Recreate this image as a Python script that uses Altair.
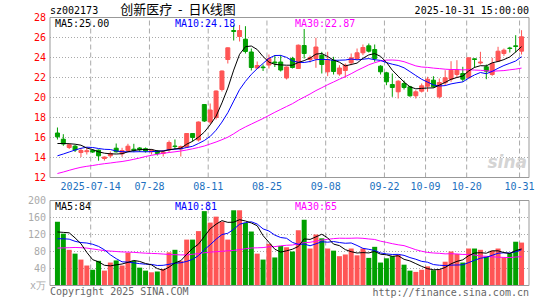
import altair as alt
import pandas as pd

# ---------------- data ----------------
grid_idx = [6, 16, 26, 36, 46, 56, 63, 70, 79]
grid_labels = ["2025-07-14", "07-28", "08-11", "08-25", "09-08", "09-22", "10-09", "10-20", "10-31"]

opens = [16.45, 15.83, 15.0, 15.13, 14.5, 14.58, 14.7, 14.73, 13.9, 14.17,
         14.93, 14.37, 14.7, 14.83, 14.95, 14.88, 14.57, 14.63, 14.4, 14.77,
         15.15, 14.85, 15.05, 16.4, 15.75, 19.3, 17.55, 18.0, 20.8, 23.8,
         26.7, 26.1, 25.83, 24.55, 22.95, 23.05, 23.25, 23.55, 23.55, 21.95,
         23.9, 22.9, 25.2, 23.8, 23.9, 24.23, 22.57, 23.73, 22.35, 22.7,
         23.47, 23.9, 24.47, 25.17, 24.8, 23.13, 22.47, 21.3, 20.57, 21.4,
         21.07, 20.17, 20.63, 21.13, 21.73, 20.07, 21.47, 21.83, 22.3, 22.4,
         21.97, 23.87, 23.45, 23.07, 22.3, 23.63, 24.4, 24.95, 25.17, 24.63]
highs = [17.0, 16.33, 15.4, 15.25, 14.95, 14.95, 14.85, 14.8, 14.1, 14.6,
         15.4, 14.97, 15.37, 15.37, 15.05, 15.0, 14.85, 14.75, 14.75, 15.7,
         15.8, 15.2, 16.45, 16.45, 17.6, 19.35, 19.4, 20.7, 22.7, 25.0,
         27.25, 27.25, 27.13, 24.9, 23.6, 23.3, 24.3, 24.25, 24.25, 23.1,
         24.07, 25.3, 26.85, 24.2, 25.97, 24.57, 24.57, 24.07, 23.23, 23.4,
         24.4, 24.9, 25.3, 25.4, 25.3, 23.23, 22.57, 22.4, 21.73, 21.7,
         21.17, 20.73, 21.4, 22.07, 22.13, 21.9, 22.73, 23.63, 23.73, 23.07,
         24.0, 23.9, 24.57, 23.3, 23.97, 25.07, 24.9, 25.07, 26.23, 26.73]
lows = [15.8, 15.17, 14.85, 14.55, 14.05, 14.3, 14.45, 13.68, 13.7, 13.95,
        14.5, 14.07, 14.57, 14.53, 14.55, 14.5, 14.3, 14.2, 14.1, 14.55,
        14.85, 14.1, 15.0, 15.6, 15.6, 17.55, 17.3, 17.8, 20.6, 23.4,
        25.7, 25.6, 24.4, 22.7, 22.85, 22.65, 22.9, 23.05, 22.6, 21.8,
        22.9, 22.85, 23.9, 23.5, 22.97, 22.4, 22.13, 22.3, 22.17, 21.97,
        23.23, 23.73, 24.23, 24.5, 23.57, 22.3, 21.23, 20.07, 19.9, 20.8,
        20.07, 19.9, 20.5, 20.57, 20.97, 19.9, 21.23, 21.57, 21.97, 21.57,
        21.9, 22.97, 23.3, 21.83, 22.17, 23.57, 24.17, 24.5, 24.5, 24.3]
closes = [16.07, 15.35, 15.27, 14.75, 14.7, 14.68, 14.55, 14.17, 14.05, 14.4,
          14.57, 14.7, 15.13, 14.72, 14.78, 14.65, 14.75, 14.4, 14.55, 15.5,
          15.1, 15.1, 16.4, 16.0, 17.55, 17.65, 18.75, 20.65, 22.65, 24.97,
          26.6, 26.7, 24.6, 23.0, 23.2, 22.98, 23.9, 23.45, 22.75, 23.05,
          23.0, 25.23, 24.4, 24.0, 25.05, 23.3, 23.73, 22.6, 22.95, 23.23,
          23.97, 24.47, 25.0, 24.63, 23.9, 22.57, 21.57, 21.0, 21.63, 21.0,
          20.17, 20.57, 21.17, 21.83, 21.07, 21.5, 21.97, 22.73, 22.73, 21.83,
          23.97, 23.8, 23.55, 22.63, 23.4, 24.63, 24.73, 24.9, 25.1, 26.07]
ma5 = [15.40, 15.40, 15.38, 15.33, 15.23, 14.95, 14.79, 14.57, 14.43, 14.37,
       14.35, 14.38, 14.57, 14.70, 14.78, 14.80, 14.81, 14.66, 14.63, 14.77,
       14.86, 14.93, 15.33, 15.62, 16.03, 16.54, 17.27, 18.13, 19.46, 20.94,
       22.74, 24.32, 25.08, 25.15, 24.80, 24.09, 23.54, 23.31, 23.26, 23.23,
       23.23, 23.50, 23.69, 23.94, 24.34, 24.40, 24.10, 23.74, 23.53, 23.16,
       23.30, 23.44, 23.92, 24.26, 24.39, 24.11, 23.53, 22.73, 22.13, 21.55,
       21.07, 20.87, 20.91, 20.95, 20.96, 21.23, 21.51, 21.82, 22.00, 22.15,
       22.65, 23.01, 23.18, 23.16, 23.47, 23.60, 23.79, 24.06, 24.55, 25.09]
ma10 = [14.17, 14.35, 14.55, 14.75, 14.92, 15.03, 15.00, 14.90, 14.82, 14.80,
        14.65, 14.58, 14.57, 14.57, 14.58, 14.57, 14.59, 14.62, 14.67, 14.78,
        14.83, 14.87, 15.00, 15.12, 15.40, 15.70, 16.11, 16.73, 17.54, 18.48,
        19.64, 20.79, 21.61, 22.31, 22.88, 23.41, 23.92, 24.20, 24.21, 24.01,
        23.66, 23.52, 23.50, 23.60, 23.78, 23.81, 23.80, 23.71, 23.73, 23.75,
        23.85, 23.77, 23.83, 23.89, 23.78, 23.71, 23.49, 23.33, 23.20, 22.97,
        22.59, 22.20, 21.82, 21.54, 21.26, 21.15, 21.19, 21.36, 21.47, 21.56,
        21.94, 22.26, 22.50, 22.38, 22.61, 22.92, 23.20, 23.42, 23.65, 24.08]
ma30 = [12.40, 12.55, 12.72, 12.88, 13.02, 13.12, 13.20, 13.30, 13.38, 13.45,
        13.53, 13.60, 13.70, 13.82, 13.95, 14.10, 14.22, 14.32, 14.42, 14.50,
        14.57, 14.65, 14.75, 14.87, 15.00, 15.15, 15.35, 15.55, 15.78, 16.03,
        16.37, 16.75, 17.06, 17.34, 17.62, 17.90, 18.21, 18.52, 18.81, 19.10,
        19.38, 19.73, 20.04, 20.35, 20.69, 20.98, 21.28, 21.55, 21.83, 22.09,
        22.38, 22.70, 22.98, 23.27, 23.48, 23.65, 23.74, 23.75, 23.71, 23.58,
        23.37, 23.16, 23.05, 23.01, 22.94, 22.89, 22.83, 22.80, 22.80, 22.76,
        22.79, 22.74, 22.72, 22.67, 22.62, 22.66, 22.69, 22.77, 22.84, 22.94]
vols = [150, 122, 84, 75, 61, 47, 37, 58, 35, 54,
        59, 47, 77, 58, 42, 35, 31, 33, 39, 78,
        84, 58, 108, 108, 128, 175, 148, 162, 150, 108,
        177, 177, 147, 127, 75, 61, 98, 66, 93, 90,
        80, 130, 155, 87, 120, 111, 87, 82, 69, 73,
        87, 71, 87, 65, 91, 54, 64, 69, 72, 49,
        35, 32, 37, 45, 36, 38, 56, 80, 74, 54,
        87, 87, 84, 68, 82, 87, 66, 76, 103, 101]
vma5 = [126, 125, 124, 112, 98.4, 77.8, 60.8, 55.6, 47.6, 46.2,
        48.6, 50.6, 54.4, 59, 56.6, 51.8, 48.6, 39.8, 36, 43.2,
        53, 58.4, 73.4, 87.2, 97.2, 115.4, 133.4, 144.2, 152.6, 148.6,
        149, 154.8, 151.8, 147.2, 140.6, 117.4, 101.6, 85.4, 78.6, 81.6,
        85.4, 91.8, 109.6, 108.4, 114.4, 120.6, 112, 97.4, 93.8, 84.4,
        79.6, 76.4, 77.4, 76.6, 80.2, 73.6, 72.2, 68.6, 70, 61.6,
        57.8, 51.4, 45, 39.6, 37, 37.6, 42.4, 51, 56.8, 60.4,
        70.2, 76.4, 77.2, 76, 81.6, 81.6, 77.4, 75.2, 82.2, 86]
vma10 = [110, 110, 109, 104, 101, 100, 97, 92, 84, 72.3,
         63.2, 55.7, 55, 53.3, 51.4, 50.2, 49.6, 47.1, 47.5, 49.9,
         52.4, 53.5, 56.6, 61.6, 70.2, 84.2, 95.9, 108.8, 119.9, 122.9,
         132.2, 144.1, 148, 149.9, 144.6, 133.2, 128.2, 118.6, 112.9, 111.1,
         101.4, 96.7, 97.5, 93.5, 98, 103, 101.9, 103.5, 101.1, 99.4,
         100.1, 94.2, 87.4, 85.2, 82.3, 76.6, 74.3, 73, 73.3, 70.9,
         65.7, 61.8, 56.8, 54.8, 49.3, 47.7, 46.9, 48, 48.2, 48.7,
         53.9, 59.4, 64.1, 66.4, 71, 75.9, 76.9, 76.5, 79.4, 84.1]
vma30 = [88, 88.5, 89, 89.5, 89, 88, 86, 84, 82, 81,
         80, 79, 78.5, 78, 77, 76, 75.5, 75, 74, 73,
         72.5, 72, 72, 73.5, 75, 77, 78.5, 79.5, 80.5, 81.7,
         82.6, 84.4, 86.5, 88.3, 88.7, 89.2, 91.2, 91.5, 93.4, 94.6,
         95.3, 98.1, 100.7, 101.7, 104.3, 106.8, 108.7, 110.3, 111.3, 111.1,
         111.2, 111.7, 111, 109.5, 108.3, 104.3, 101.5, 98.4, 95.8, 93.8,
         89.1, 84.2, 80.6, 77.8, 76.5, 75.8, 74.4, 74.8, 74.2, 73,
         73.2, 71.8, 69.4, 68.8, 67.5, 66.7, 66, 65.8, 67, 67.9]

price_ticks = [12, 14, 16, 18, 20, 22, 24, 26, 28]
vol_ticks = [0, 40, 80, 120, 160, 200]
vol_tick_labels = ["x万", "40", "80", "120", "160", "200"]
price_legend = ["MA5:25.00", "MA10:24.18", "MA30:22.87"]
vol_legend = ["MA5:84", "MA10:81", "MA30:65"]
code_text = "sz002173"
title_text = "创新医疗\u00a0\u00a0-\u00a0\u00a0日K线图"
time_text = "2025-10-31 15:00:00"
copyright_text = "Copyright 2025 SINA.COM"
url_text = "http://finance.sina.com.cn"

# ---------------- styling ----------------
RED = "#FF5555"
GREEN = "#00A000"
MA_COLORS = ["#000000", "#0000FF", "#FF00FF"]
GRID = "#AAAAAA"
BORDER = "#999999"
DATE_BLUE = "#2070C0"
FONT = "DejaVu Sans Mono"
CJK = "Noto Sans CJK SC"
W, H = 479, 269

n = len(closes)
df = pd.DataFrame({
    "i": list(range(n)), "open": opens, "high": highs, "low": lows, "close": closes,
    "ma5": ma5, "ma10": ma10, "ma30": ma30,
    "vol": vols, "vma5": vma5, "vma10": vma10, "vma30": vma30,
})
gdf = pd.DataFrame({"i": grid_idx, "label": grid_labels})
ptdf = pd.DataFrame({"v": price_ticks, "label": [str(t) for t in price_ticks]})
vtdf = pd.DataFrame({"v": vol_ticks, "label": vol_tick_labels})
one = pd.DataFrame({"k": [0]})

xs = alt.Scale(domain=[-5 / 12, W / 6 - 5 / 12], nice=False, zero=False)
X = alt.X("i:Q", scale=xs, axis=None)
ps = alt.Scale(domain=[12, 28], range=[160.5, 0.5], nice=False, zero=False)
vs = alt.Scale(domain=[0, 200], range=[268.5, 183.5], nice=False, zero=False)

updown = alt.condition("datum.close >= datum.open", alt.value(RED), alt.value(GREEN))


def txt(text, x, y, color, align="left", font=FONT, size=10, **kw):
    return alt.Chart(one).mark_text(text=text, align=align, baseline="middle", font=font,
                                    fontSize=size, color=color, **kw).encode(
        x=alt.value(x), y=alt.value(y))


base = alt.Chart(df)

# ---------- price panel ----------
p_hgrid = alt.Chart(ptdf).mark_rule(strokeDash=[1, 2], color=GRID, strokeWidth=1).encode(
    x=alt.value(0), x2=alt.value(W), y=alt.Y("v:Q", scale=ps, axis=None))
p_ylab = alt.Chart(ptdf).mark_text(align="right", baseline="middle", font=FONT, fontSize=10,
                                   color="#FF0000").encode(
    x=alt.value(-4), y=alt.Y("v:Q", scale=ps, axis=None), text="label:N")
p_vgrid = alt.Chart(gdf).mark_rule(strokeDash=[5, 3], color=GRID, strokeWidth=1, xOffset=-2).encode(
    x=X, y=alt.datum(12, scale=ps, axis=None), y2=alt.datum(28))
p_dates = alt.Chart(gdf).mark_text(font=FONT, fontSize=10, color=DATE_BLUE, baseline="middle",
                                    dy=9, xOffset=-2).encode(
    x=X, y=alt.datum(12, scale=ps, axis=None), text="label:N")
wicks = base.mark_rule(strokeWidth=1).encode(
    x=X, y=alt.Y("low:Q", scale=ps, axis=None), y2="high:Q", color=updown)
bodies = base.mark_bar(width=4, strokeWidth=1).encode(
    x=X, y=alt.Y("open:Q", scale=ps, axis=None), y2="close:Q", fill=updown, stroke=updown)
p_lines = [base.mark_line(color=c, strokeWidth=1).encode(
    x=X, y=alt.Y(f"{f}:Q", scale=ps, axis=None)) for f, c in zip(["ma30", "ma10", "ma5"], MA_COLORS[::-1])]
p_border = alt.Chart(one).mark_rect(fillOpacity=0, stroke=BORDER, strokeWidth=1).encode(
    x=alt.value(0), x2=alt.value(W), y=alt.datum(28, scale=ps, axis=None), y2=alt.datum(12))
p_texts = [
    txt(code_text, 0, -6, "#000000"),
    txt(title_text, 128, -7, "#000000", align="center", font=CJK, size=13),
    txt(time_text, W, -6, "#000000", align="right"),
    txt(price_legend[0], 5, 6.5, MA_COLORS[0]),
    txt(price_legend[1], 125, 6.5, MA_COLORS[1]),
    txt(price_legend[2], 245, 6.5, MA_COLORS[2]),
    txt("sina", 477, 146, "#D4D4D4", align="right", font="DejaVu Sans", size=17,
        fontStyle="italic", fontWeight="bold"),
]
price = alt.layer(p_hgrid, p_vgrid, wicks, bodies, *p_lines, p_border, p_ylab, p_dates, *p_texts)

# ---------- volume panel ----------
v_hgrid = alt.Chart(vtdf).mark_rule(strokeDash=[1, 2], color=GRID, strokeWidth=1).encode(
    x=alt.value(0), x2=alt.value(W), y=alt.Y("v:Q", scale=vs, axis=None))
v_ylab = alt.Chart(vtdf).mark_text(align="right", baseline="middle", font=FONT, fontSize=10,
                                   color="#AAAAAA").encode(
    x=alt.value(-4), y=alt.Y("v:Q", scale=vs, axis=None), text="label:N")
v_vgrid = alt.Chart(gdf).mark_rule(strokeDash=[5, 3], color=GRID, strokeWidth=1, xOffset=-2).encode(
    x=X, y=alt.datum(0, scale=vs, axis=None), y2=alt.datum(200))
vbars = base.mark_bar(width=5).encode(
    x=X, y=alt.Y("vol:Q", scale=vs, axis=None), y2=alt.datum(0), color=updown)
v_lines = [base.mark_line(color=c, strokeWidth=1).encode(
    x=X, y=alt.Y(f"{f}:Q", scale=vs, axis=None)) for f, c in zip(["vma30", "vma10", "vma5"], MA_COLORS[::-1])]
v_border = alt.Chart(one).mark_rect(fillOpacity=0, stroke=BORDER, strokeWidth=1).encode(
    x=alt.value(0), x2=alt.value(W), y=alt.datum(200, scale=vs, axis=None), y2=alt.datum(0))
v_texts = [
    txt(vol_legend[0], 5, 189.5, MA_COLORS[0]),
    txt(vol_legend[1], 125, 189.5, MA_COLORS[1]),
    txt(vol_legend[2], 245, 189.5, MA_COLORS[2]),
    txt(copyright_text, 0, 275, "#666666"),
    txt(url_text, W, 276, "#666666", align="right"),
]
volume = alt.layer(v_hgrid, v_vgrid, vbars, *v_lines, v_border, v_ylab, *v_texts)

chart = alt.layer(price, volume).resolve_scale(y="independent").properties(
    width=W, height=H,
    padding={"left": 50, "top": 17, "right": 16, "bottom": 14},
    autosize=alt.AutoSizeParams(type="none"),
    background="white",
).configure_view(stroke=None)

chart.save("out.html", embed_options={"renderer": "svg", "actions": False})
